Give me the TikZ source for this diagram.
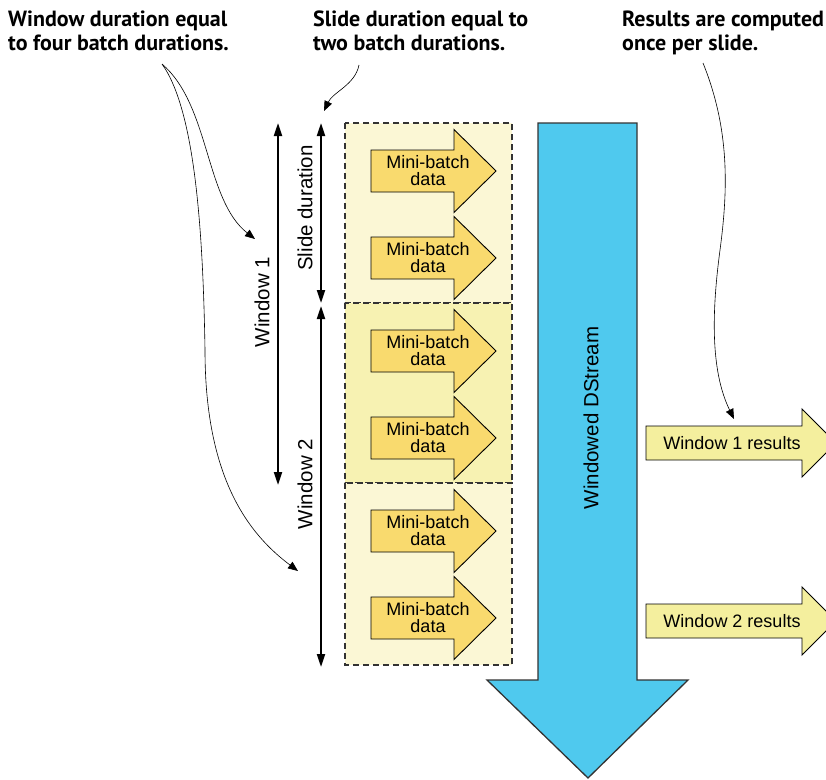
\documentclass[tikz,border=0pt]{standalone}
\usepackage{fontspec}
\setmainfont{Liberation Sans}
\newfontfamily\annfont{PT Sans}
\usetikzlibrary{arrows.meta}
\definecolor{batchfill}{HTML}{F9DA6E}
\definecolor{paleA}{HTML}{FBF7D5}
\definecolor{paleB}{HTML}{F7F2B2}
\definecolor{resfill}{HTML}{F4EF9E}
\definecolor{streamblue}{HTML}{4FC9EE}
\definecolor{edgegray}{HTML}{333333}
\tikzset{
  shapeline/.style={draw=black, line width=0.9pt, line join=miter},
  winbox/.style={draw=edgegray, dashed, dash pattern=on 6pt off 4pt, line width=1.1pt},
  lbl/.style={font=\fontsize{18}{17}\selectfont, inner sep=0pt, align=center},
  vlbl/.style={font=\fontsize{20.5}{20}\selectfont, inner sep=0pt, rotate=90},
  ann/.style={font=\annfont\bfseries\fontsize{22}{24}\selectfont, inner sep=0pt, align=left, anchor=north west},
  dimarrow/.style={line width=2pt, {Triangle[length=13pt,width=8pt]}-{Triangle[length=13pt,width=8pt]}},
  callout/.style={line width=0.6pt, -{Triangle[length=10pt,width=8pt]}}
}
\newcommand\batcharrow[1]{%
  \draw[shapeline, fill=batchfill] (371,{#1-21}) -- (454,{#1-21}) -- (454,{#1-41.5}) -- (496,#1)
    -- (454,{#1+41.5}) -- (454,{#1+21}) -- (371,{#1+21}) -- cycle;}
\newcommand\resarrow[1]{%
  \draw[shapeline, fill=resfill] (646,{#1-17}) -- (802,{#1-17}) -- (802,{#1-34}) -- (836,#1)
    -- (802,{#1+34}) -- (802,{#1+17}) -- (646,{#1+17}) -- cycle;}
\begin{document}
\begin{tikzpicture}[x=1pt,y=-1pt]
\useasboundingbox (0,0) rectangle (826,779);
% window boxes
\draw[winbox, fill=paleA] (345,123) rectangle (512,303);
\draw[winbox, fill=paleB] (345,303) rectangle (512,483);
\draw[winbox, fill=paleA] (345,483) rectangle (512,665);
% mini batch arrows
\foreach \yc [count=\i] in {171,258,351,438,531,618}{
  \batcharrow{\yc}
  \node[lbl] (mb\i) at (428,\yc) {Mini-batch\\data};
}
% windowed dstream
\draw[line width=1.3pt, draw=edgegray, fill=streamblue, line join=miter]
  (538,123) -- (637,123) -- (637,680) -- (688,680) -- (588,778) -- (487,680) -- (538,680) -- cycle;
\node[vlbl] (ds) at (591,418) {Windowed DStream};
% results
\resarrow{443}
\node[lbl] (r1) at (732,443) {Window 1 results};
\resarrow{621}
\node[lbl] (r2) at (732,621) {Window 2 results};
% dimension arrows
\coordinate (w1top) at (278,123);
\coordinate (w1bot) at (278,485);
\coordinate (sltop) at (321,123);
\coordinate (slbot) at (321,303);
\coordinate (w2top) at (321,306);
\coordinate (w2bot) at (321,667);
\draw[dimarrow] (w1top) -- (w1bot);
\draw[dimarrow] (sltop) -- (slbot);
\draw[dimarrow] (w2top) -- (w2bot);
\node[vlbl] (w1lbl) at (262,302) {Window 1};
\node[vlbl] (sllbl) at (305,208) {Slide duration};
\node[vlbl] (w2lbl) at (305,484) {Window 2};
% annotations
\node[ann] (annwin) at (8,11) {Window duration equal\\to four batch durations.};
\node[ann] (annslide) at (313,11) {Slide duration equal to\\two batch durations.};
\node[ann] (annres) at (622,11) {Results are computed\\once per slide.};
\coordinate (cw) at (162,64);
\coordinate (cw1) at (255,239);
\coordinate (cw2) at (298,571);
\coordinate (cs) at (359,65);
\coordinate (cs1) at (324,111);
\coordinate (cr) at (703,63);
\coordinate (cr1) at (734,419);
\draw[callout] (cw) .. controls (210,105) and (205,200) .. (cw1);
\draw[callout] (cw) .. controls (195,110) and (203,230) .. (205,350) .. controls (205,480) and (250,535) .. (cw2);
\draw[callout] (cs) .. controls (355,85) and (333,92) .. (cs1);
\draw[callout] (cr) .. controls (730,130) and (728,190) .. (720,250) .. controls (712,310) and (710,370) .. (cr1);
\end{tikzpicture}
\end{document}
